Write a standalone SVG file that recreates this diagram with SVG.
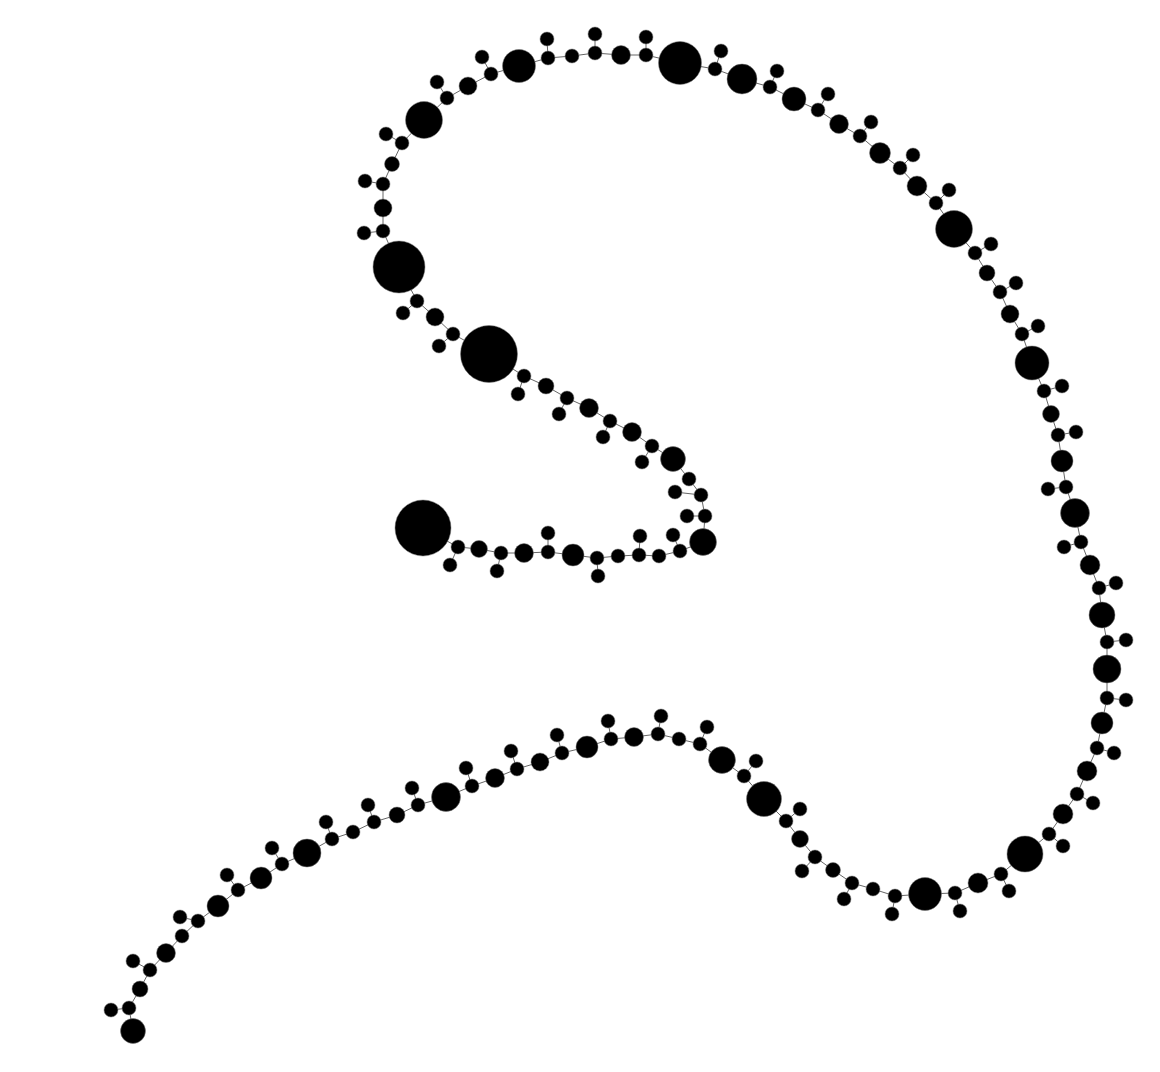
<svg xmlns="http://www.w3.org/2000/svg" width="1160" height="1072" viewBox="0 0 1160 1072">
<style>
.e line{stroke:#666;stroke-width:1}
circle{fill:#000;stroke:#777;stroke-width:0.5}
</style>
<rect width="1160" height="1072" fill="#fff"/>
<g id="edges" class="e">
<line x1="423" y1="528" x2="458" y2="547"/><line x1="458" y1="547" x2="479" y2="549"/><line x1="479" y1="549" x2="501" y2="553"/><line x1="501" y1="553" x2="524" y2="553"/><line x1="524" y1="553" x2="548" y2="552"/><line x1="548" y1="552" x2="573" y2="555"/><line x1="573" y1="555" x2="597" y2="558"/><line x1="597" y1="558" x2="618" y2="556"/><line x1="618" y1="556" x2="639" y2="555"/><line x1="639" y1="555" x2="659" y2="556"/><line x1="659" y1="556" x2="680" y2="551"/><line x1="680" y1="551" x2="703" y2="542"/><line x1="703" y1="542" x2="705" y2="516"/><line x1="705" y1="516" x2="701" y2="495"/><line x1="701" y1="495" x2="689" y2="479"/><line x1="689" y1="479" x2="673" y2="459"/><line x1="673" y1="459" x2="652" y2="446"/><line x1="652" y1="446" x2="632" y2="432"/><line x1="632" y1="432" x2="610" y2="421"/><line x1="610" y1="421" x2="589" y2="408"/><line x1="589" y1="408" x2="567" y2="398"/><line x1="567" y1="398" x2="546" y2="386"/><line x1="546" y1="386" x2="524" y2="376"/><line x1="524" y1="376" x2="489" y2="354"/><line x1="489" y1="354" x2="453" y2="334"/><line x1="453" y1="334" x2="435" y2="317"/><line x1="435" y1="317" x2="417" y2="301"/><line x1="417" y1="301" x2="399" y2="267"/><line x1="399" y1="267" x2="383" y2="231"/><line x1="383" y1="231" x2="383" y2="208"/><line x1="383" y1="208" x2="383" y2="184"/><line x1="383" y1="184" x2="392" y2="164"/><line x1="392" y1="164" x2="402" y2="143"/><line x1="402" y1="143" x2="424" y2="120"/><line x1="424" y1="120" x2="447" y2="98"/><line x1="447" y1="98" x2="468" y2="86"/><line x1="468" y1="86" x2="491" y2="74"/><line x1="491" y1="74" x2="519" y2="66"/><line x1="519" y1="66" x2="548" y2="58"/><line x1="548" y1="58" x2="572" y2="56"/><line x1="572" y1="56" x2="595" y2="53"/><line x1="595" y1="53" x2="621" y2="55"/><line x1="621" y1="55" x2="646" y2="55"/><line x1="646" y1="55" x2="680" y2="63"/><line x1="680" y1="63" x2="715" y2="69"/><line x1="715" y1="69" x2="742" y2="79"/><line x1="742" y1="79" x2="770" y2="87"/><line x1="770" y1="87" x2="794" y2="99"/><line x1="794" y1="99" x2="818" y2="110"/><line x1="818" y1="110" x2="839" y2="124"/><line x1="839" y1="124" x2="860" y2="136"/><line x1="860" y1="136" x2="880" y2="153"/><line x1="880" y1="153" x2="900" y2="168"/><line x1="900" y1="168" x2="917" y2="186"/><line x1="917" y1="186" x2="936" y2="203"/><line x1="936" y1="203" x2="954" y2="229"/><line x1="954" y1="229" x2="975" y2="253"/><line x1="975" y1="253" x2="987" y2="273"/><line x1="987" y1="273" x2="1000" y2="292"/><line x1="1000" y1="292" x2="1010" y2="314"/><line x1="1010" y1="314" x2="1022" y2="334"/><line x1="1022" y1="334" x2="1032" y2="363"/><line x1="1032" y1="363" x2="1044" y2="391"/><line x1="1044" y1="391" x2="1051" y2="414"/><line x1="1051" y1="414" x2="1058" y2="435"/><line x1="1058" y1="435" x2="1062" y2="461"/><line x1="1062" y1="461" x2="1066" y2="487"/><line x1="1066" y1="487" x2="1075" y2="513"/><line x1="1075" y1="513" x2="1081" y2="542"/><line x1="1081" y1="542" x2="1090" y2="565"/><line x1="1090" y1="565" x2="1099" y2="588"/><line x1="1099" y1="588" x2="1102" y2="615"/><line x1="1102" y1="615" x2="1107" y2="642"/><line x1="1107" y1="642" x2="1107" y2="669"/><line x1="1107" y1="669" x2="1107" y2="698"/><line x1="1107" y1="698" x2="1102" y2="723"/><line x1="1102" y1="723" x2="1097" y2="748"/><line x1="1097" y1="748" x2="1087" y2="771"/><line x1="1087" y1="771" x2="1077" y2="794"/><line x1="1077" y1="794" x2="1063" y2="814"/><line x1="1063" y1="814" x2="1049" y2="834"/><line x1="1049" y1="834" x2="1025" y2="854"/><line x1="1025" y1="854" x2="1001" y2="874"/><line x1="1001" y1="874" x2="978" y2="883"/><line x1="978" y1="883" x2="955" y2="893"/><line x1="955" y1="893" x2="925" y2="894"/><line x1="925" y1="894" x2="895" y2="896"/><line x1="895" y1="896" x2="873" y2="889"/><line x1="873" y1="889" x2="852" y2="883"/><line x1="852" y1="883" x2="833" y2="870"/><line x1="833" y1="870" x2="815" y2="857"/><line x1="815" y1="857" x2="800" y2="839"/><line x1="800" y1="839" x2="786" y2="821"/><line x1="786" y1="821" x2="764" y2="799"/><line x1="764" y1="799" x2="744" y2="776"/><line x1="744" y1="776" x2="722" y2="760"/><line x1="722" y1="760" x2="700" y2="744"/><line x1="700" y1="744" x2="679" y2="739"/><line x1="679" y1="739" x2="658" y2="734"/><line x1="658" y1="734" x2="634" y2="737"/><line x1="634" y1="737" x2="611" y2="739"/><line x1="611" y1="739" x2="587" y2="747"/><line x1="587" y1="747" x2="562" y2="753"/><line x1="562" y1="753" x2="540" y2="762"/><line x1="540" y1="762" x2="517" y2="769"/><line x1="517" y1="769" x2="495" y2="778"/><line x1="495" y1="778" x2="472" y2="786"/><line x1="472" y1="786" x2="446" y2="797"/><line x1="446" y1="797" x2="418" y2="805"/><line x1="418" y1="805" x2="397" y2="815"/><line x1="397" y1="815" x2="374" y2="822"/><line x1="374" y1="822" x2="353" y2="832"/><line x1="353" y1="832" x2="332" y2="839"/><line x1="332" y1="839" x2="307" y2="853"/><line x1="307" y1="853" x2="282" y2="864"/><line x1="282" y1="864" x2="261" y2="878"/><line x1="261" y1="878" x2="238" y2="890"/><line x1="238" y1="890" x2="218" y2="906"/><line x1="218" y1="906" x2="198" y2="921"/><line x1="198" y1="921" x2="182" y2="936"/><line x1="182" y1="936" x2="166" y2="953"/><line x1="166" y1="953" x2="150" y2="970"/><line x1="150" y1="970" x2="140" y2="989"/><line x1="140" y1="989" x2="129" y2="1008"/><line x1="129" y1="1008" x2="133" y2="1031"/>
<line x1="458" y1="547" x2="450" y2="565"/><line x1="501" y1="553" x2="497" y2="571"/><line x1="548" y1="552" x2="548" y2="533"/><line x1="597" y1="558" x2="598" y2="576"/><line x1="639" y1="555" x2="640" y2="536"/><line x1="680" y1="551" x2="673" y2="535"/><line x1="705" y1="516" x2="687" y2="516"/><line x1="701" y1="495" x2="675" y2="492"/><line x1="652" y1="446" x2="642" y2="462"/><line x1="610" y1="421" x2="603" y2="437"/><line x1="567" y1="398" x2="559" y2="414"/><line x1="524" y1="376" x2="518" y2="394"/><line x1="453" y1="334" x2="439" y2="346"/><line x1="417" y1="301" x2="403" y2="313"/><line x1="383" y1="231" x2="364" y2="233"/><line x1="383" y1="184" x2="365" y2="181"/><line x1="402" y1="143" x2="386" y2="134"/><line x1="447" y1="98" x2="437" y2="82"/><line x1="491" y1="74" x2="482" y2="57"/><line x1="548" y1="58" x2="547" y2="39"/><line x1="595" y1="53" x2="595" y2="34"/><line x1="646" y1="55" x2="646" y2="37"/><line x1="715" y1="69" x2="721" y2="51"/><line x1="770" y1="87" x2="777" y2="71"/><line x1="818" y1="110" x2="828" y2="94"/><line x1="860" y1="136" x2="871" y2="122"/><line x1="900" y1="168" x2="913" y2="155"/><line x1="936" y1="203" x2="949" y2="190"/><line x1="975" y1="253" x2="991" y2="244"/><line x1="1000" y1="292" x2="1016" y2="283"/><line x1="1022" y1="334" x2="1038" y2="326"/><line x1="1044" y1="391" x2="1062" y2="386"/><line x1="1058" y1="435" x2="1076" y2="432"/><line x1="1066" y1="487" x2="1048" y2="489"/><line x1="1081" y1="542" x2="1064" y2="547"/><line x1="1099" y1="588" x2="1116" y2="583"/><line x1="1107" y1="642" x2="1126" y2="640"/><line x1="1107" y1="698" x2="1126" y2="700"/><line x1="1097" y1="748" x2="1114" y2="753"/><line x1="1077" y1="794" x2="1093" y2="803"/><line x1="1049" y1="834" x2="1063" y2="846"/><line x1="1001" y1="874" x2="1009" y2="891"/><line x1="955" y1="893" x2="960" y2="911"/><line x1="895" y1="896" x2="892" y2="914"/><line x1="852" y1="883" x2="844" y2="899"/><line x1="815" y1="857" x2="802" y2="871"/><line x1="786" y1="821" x2="800" y2="809"/><line x1="744" y1="776" x2="756" y2="761"/><line x1="700" y1="744" x2="707" y2="727"/><line x1="658" y1="734" x2="661" y2="716"/><line x1="611" y1="739" x2="608" y2="721"/><line x1="562" y1="753" x2="557" y2="735"/><line x1="517" y1="769" x2="511" y2="751"/><line x1="472" y1="786" x2="466" y2="768"/><line x1="418" y1="805" x2="412" y2="788"/><line x1="374" y1="822" x2="368" y2="805"/><line x1="332" y1="839" x2="326" y2="822"/><line x1="282" y1="864" x2="272" y2="848"/><line x1="238" y1="890" x2="227" y2="875"/><line x1="198" y1="921" x2="180" y2="917"/><line x1="150" y1="970" x2="133" y2="961"/><line x1="129" y1="1008" x2="111" y2="1010"/>
</g>
<g id="nodes">
<g id="n1"><circle cx="423" cy="528" r="28"/></g>
<g id="n2"><circle cx="458" cy="547" r="7"/></g><g id="n2a"><circle cx="450" cy="565" r="7"/></g>
<g id="n3"><circle cx="479" cy="549" r="8.5"/></g>
<g id="n4"><circle cx="501" cy="553" r="7"/></g><g id="n4a"><circle cx="497" cy="571" r="7"/></g>
<g id="n5"><circle cx="524" cy="553" r="9.5"/></g>
<g id="n6"><circle cx="548" cy="552" r="7"/></g><g id="n6a"><circle cx="548" cy="533" r="7"/></g>
<g id="n7"><circle cx="573" cy="555" r="11"/></g>
<g id="n8"><circle cx="597" cy="558" r="7"/></g><g id="n8a"><circle cx="598" cy="576" r="7"/></g>
<g id="n9"><circle cx="618" cy="556" r="7"/></g>
<g id="n10"><circle cx="639" cy="555" r="7"/></g><g id="n10a"><circle cx="640" cy="536" r="7"/></g>
<g id="n11"><circle cx="659" cy="556" r="7"/></g>
<g id="n12"><circle cx="680" cy="551" r="7"/></g><g id="n12a"><circle cx="673" cy="535" r="7"/></g>
<g id="n13"><circle cx="703" cy="542" r="13.5"/></g>
<g id="n14"><circle cx="705" cy="516" r="7"/></g><g id="n14a"><circle cx="687" cy="516" r="7"/></g>
<g id="n15"><circle cx="701" cy="495" r="7"/></g><g id="n15a"><circle cx="675" cy="492" r="7"/></g>
<g id="n16"><circle cx="689" cy="479" r="7"/></g>
<g id="n17"><circle cx="673" cy="459" r="12.5"/></g>
<g id="n18"><circle cx="652" cy="446" r="7"/></g><g id="n18a"><circle cx="642" cy="462" r="7"/></g>
<g id="n19"><circle cx="632" cy="432" r="9.5"/></g>
<g id="n20"><circle cx="610" cy="421" r="7"/></g><g id="n20a"><circle cx="603" cy="437" r="7"/></g>
<g id="n21"><circle cx="589" cy="408" r="9.5"/></g>
<g id="n22"><circle cx="567" cy="398" r="7"/></g><g id="n22a"><circle cx="559" cy="414" r="7"/></g>
<g id="n23"><circle cx="546" cy="386" r="8"/></g>
<g id="n24"><circle cx="524" cy="376" r="7"/></g><g id="n24a"><circle cx="518" cy="394" r="7"/></g>
<g id="n25"><circle cx="489" cy="354" r="28.5"/></g>
<g id="n26"><circle cx="453" cy="334" r="7"/></g><g id="n26a"><circle cx="439" cy="346" r="7"/></g>
<g id="n27"><circle cx="435" cy="317" r="9"/></g>
<g id="n28"><circle cx="417" cy="301" r="7"/></g><g id="n28a"><circle cx="403" cy="313" r="7"/></g>
<g id="n29"><circle cx="399" cy="267" r="26"/></g>
<g id="n30"><circle cx="383" cy="231" r="7"/></g><g id="n30a"><circle cx="364" cy="233" r="7"/></g>
<g id="n31"><circle cx="383" cy="208" r="9"/></g>
<g id="n32"><circle cx="383" cy="184" r="7"/></g><g id="n32a"><circle cx="365" cy="181" r="7"/></g>
<g id="n33"><circle cx="392" cy="164" r="7.5"/></g>
<g id="n34"><circle cx="402" cy="143" r="7"/></g><g id="n34a"><circle cx="386" cy="134" r="7"/></g>
<g id="n35"><circle cx="424" cy="120" r="18.5"/></g>
<g id="n36"><circle cx="447" cy="98" r="7"/></g><g id="n36a"><circle cx="437" cy="82" r="7"/></g>
<g id="n37"><circle cx="468" cy="86" r="9"/></g>
<g id="n38"><circle cx="491" cy="74" r="7"/></g><g id="n38a"><circle cx="482" cy="57" r="7"/></g>
<g id="n39"><circle cx="519" cy="66" r="16.5"/></g>
<g id="n40"><circle cx="548" cy="58" r="7"/></g><g id="n40a"><circle cx="547" cy="39" r="7"/></g>
<g id="n41"><circle cx="572" cy="56" r="7"/></g>
<g id="n42"><circle cx="595" cy="53" r="7"/></g><g id="n42a"><circle cx="595" cy="34" r="7"/></g>
<g id="n43"><circle cx="621" cy="55" r="9.5"/></g>
<g id="n44"><circle cx="646" cy="55" r="7"/></g><g id="n44a"><circle cx="646" cy="37" r="7"/></g>
<g id="n45"><circle cx="680" cy="63" r="21.5"/></g>
<g id="n46"><circle cx="715" cy="69" r="7"/></g><g id="n46a"><circle cx="721" cy="51" r="7"/></g>
<g id="n47"><circle cx="742" cy="79" r="15"/></g>
<g id="n48"><circle cx="770" cy="87" r="7"/></g><g id="n48a"><circle cx="777" cy="71" r="7"/></g>
<g id="n49"><circle cx="794" cy="99" r="12"/></g>
<g id="n50"><circle cx="818" cy="110" r="7"/></g><g id="n50a"><circle cx="828" cy="94" r="7"/></g>
<g id="n51"><circle cx="839" cy="124" r="9.5"/></g>
<g id="n52"><circle cx="860" cy="136" r="7"/></g><g id="n52a"><circle cx="871" cy="122" r="7"/></g>
<g id="n53"><circle cx="880" cy="153" r="10.5"/></g>
<g id="n54"><circle cx="900" cy="168" r="7"/></g><g id="n54a"><circle cx="913" cy="155" r="7"/></g>
<g id="n55"><circle cx="917" cy="186" r="10"/></g>
<g id="n56"><circle cx="936" cy="203" r="7"/></g><g id="n56a"><circle cx="949" cy="190" r="7"/></g>
<g id="n57"><circle cx="954" cy="229" r="18.5"/></g>
<g id="n58"><circle cx="975" cy="253" r="7"/></g><g id="n58a"><circle cx="991" cy="244" r="7"/></g>
<g id="n59"><circle cx="987" cy="273" r="8"/></g>
<g id="n60"><circle cx="1000" cy="292" r="7"/></g><g id="n60a"><circle cx="1016" cy="283" r="7"/></g>
<g id="n61"><circle cx="1010" cy="314" r="9"/></g>
<g id="n62"><circle cx="1022" cy="334" r="7"/></g><g id="n62a"><circle cx="1038" cy="326" r="7"/></g>
<g id="n63"><circle cx="1032" cy="363" r="17"/></g>
<g id="n64"><circle cx="1044" cy="391" r="7"/></g><g id="n64a"><circle cx="1062" cy="386" r="7"/></g>
<g id="n65"><circle cx="1051" cy="414" r="8.5"/></g>
<g id="n66"><circle cx="1058" cy="435" r="7"/></g><g id="n66a"><circle cx="1076" cy="432" r="7"/></g>
<g id="n67"><circle cx="1062" cy="461" r="11"/></g>
<g id="n68"><circle cx="1066" cy="487" r="7"/></g><g id="n68a"><circle cx="1048" cy="489" r="7"/></g>
<g id="n69"><circle cx="1075" cy="513" r="14.5"/></g>
<g id="n70"><circle cx="1081" cy="542" r="7"/></g><g id="n70a"><circle cx="1064" cy="547" r="7"/></g>
<g id="n71"><circle cx="1090" cy="565" r="10"/></g>
<g id="n72"><circle cx="1099" cy="588" r="7"/></g><g id="n72a"><circle cx="1116" cy="583" r="7"/></g>
<g id="n73"><circle cx="1102" cy="615" r="13"/></g>
<g id="n74"><circle cx="1107" cy="642" r="7"/></g><g id="n74a"><circle cx="1126" cy="640" r="7"/></g>
<g id="n75"><circle cx="1107" cy="669" r="14"/></g>
<g id="n76"><circle cx="1107" cy="698" r="7"/></g><g id="n76a"><circle cx="1126" cy="700" r="7"/></g>
<g id="n77"><circle cx="1102" cy="723" r="11"/></g>
<g id="n78"><circle cx="1097" cy="748" r="7"/></g><g id="n78a"><circle cx="1114" cy="753" r="7"/></g>
<g id="n79"><circle cx="1087" cy="771" r="10"/></g>
<g id="n80"><circle cx="1077" cy="794" r="7"/></g><g id="n80a"><circle cx="1093" cy="803" r="7"/></g>
<g id="n81"><circle cx="1063" cy="814" r="10"/></g>
<g id="n82"><circle cx="1049" cy="834" r="7"/></g><g id="n82a"><circle cx="1063" cy="846" r="7"/></g>
<g id="n83"><circle cx="1025" cy="854" r="18"/></g>
<g id="n84"><circle cx="1001" cy="874" r="7"/></g><g id="n84a"><circle cx="1009" cy="891" r="7"/></g>
<g id="n85"><circle cx="978" cy="883" r="10"/></g>
<g id="n86"><circle cx="955" cy="893" r="7"/></g><g id="n86a"><circle cx="960" cy="911" r="7"/></g>
<g id="n87"><circle cx="925" cy="894" r="16.5"/></g>
<g id="n88"><circle cx="895" cy="896" r="7"/></g><g id="n88a"><circle cx="892" cy="914" r="7"/></g>
<g id="n89"><circle cx="873" cy="889" r="7"/></g>
<g id="n90"><circle cx="852" cy="883" r="7"/></g><g id="n90a"><circle cx="844" cy="899" r="7"/></g>
<g id="n91"><circle cx="833" cy="870" r="7.5"/></g>
<g id="n92"><circle cx="815" cy="857" r="7"/></g><g id="n92a"><circle cx="802" cy="871" r="7"/></g>
<g id="n93"><circle cx="800" cy="839" r="8.5"/></g>
<g id="n94"><circle cx="786" cy="821" r="7"/></g><g id="n94a"><circle cx="800" cy="809" r="7"/></g>
<g id="n95"><circle cx="764" cy="799" r="17.5"/></g>
<g id="n96"><circle cx="744" cy="776" r="7"/></g><g id="n96a"><circle cx="756" cy="761" r="7"/></g>
<g id="n97"><circle cx="722" cy="760" r="13.5"/></g>
<g id="n98"><circle cx="700" cy="744" r="7"/></g><g id="n98a"><circle cx="707" cy="727" r="7"/></g>
<g id="n99"><circle cx="679" cy="739" r="7"/></g>
<g id="n100"><circle cx="658" cy="734" r="7"/></g><g id="n100a"><circle cx="661" cy="716" r="7"/></g>
<g id="n101"><circle cx="634" cy="737" r="9.5"/></g>
<g id="n102"><circle cx="611" cy="739" r="7"/></g><g id="n102a"><circle cx="608" cy="721" r="7"/></g>
<g id="n103"><circle cx="587" cy="747" r="11"/></g>
<g id="n104"><circle cx="562" cy="753" r="7"/></g><g id="n104a"><circle cx="557" cy="735" r="7"/></g>
<g id="n105"><circle cx="540" cy="762" r="9"/></g>
<g id="n106"><circle cx="517" cy="769" r="7"/></g><g id="n106a"><circle cx="511" cy="751" r="7"/></g>
<g id="n107"><circle cx="495" cy="778" r="9.5"/></g>
<g id="n108"><circle cx="472" cy="786" r="7"/></g><g id="n108a"><circle cx="466" cy="768" r="7"/></g>
<g id="n109"><circle cx="446" cy="797" r="14.5"/></g>
<g id="n110"><circle cx="418" cy="805" r="7"/></g><g id="n110a"><circle cx="412" cy="788" r="7"/></g>
<g id="n111"><circle cx="397" cy="815" r="8"/></g>
<g id="n112"><circle cx="374" cy="822" r="7"/></g><g id="n112a"><circle cx="368" cy="805" r="7"/></g>
<g id="n113"><circle cx="353" cy="832" r="7"/></g>
<g id="n114"><circle cx="332" cy="839" r="7"/></g><g id="n114a"><circle cx="326" cy="822" r="7"/></g>
<g id="n115"><circle cx="307" cy="853" r="14"/></g>
<g id="n116"><circle cx="282" cy="864" r="7"/></g><g id="n116a"><circle cx="272" cy="848" r="7"/></g>
<g id="n117"><circle cx="261" cy="878" r="11"/></g>
<g id="n118"><circle cx="238" cy="890" r="7"/></g><g id="n118a"><circle cx="227" cy="875" r="7"/></g>
<g id="n119"><circle cx="218" cy="906" r="11"/></g>
<g id="n120"><circle cx="198" cy="921" r="7"/></g><g id="n120a"><circle cx="180" cy="917" r="7"/></g>
<g id="n121"><circle cx="182" cy="936" r="7"/></g>
<g id="n122"><circle cx="166" cy="953" r="9.5"/></g>
<g id="n123"><circle cx="150" cy="970" r="7"/></g><g id="n123a"><circle cx="133" cy="961" r="7"/></g>
<g id="n124"><circle cx="140" cy="989" r="8"/></g>
<g id="n125"><circle cx="129" cy="1008" r="7"/></g><g id="n125a"><circle cx="111" cy="1010" r="7"/></g>
<g id="n126"><circle cx="133" cy="1031" r="12.5"/></g>
</g>
</svg>
